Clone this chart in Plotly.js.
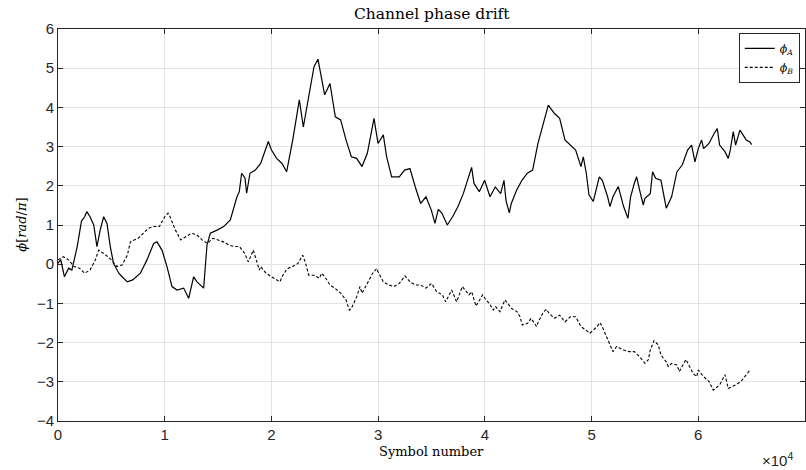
<!DOCTYPE html>
<html>
<head>
<meta charset="utf-8">
<script src="https://cdn.plot.ly/plotly-3.0.1.min.js"></script>
<style>
html,body{margin:0;padding:0;background:#fff;}
#chart{width:806px;height:470px;}
</style>
</head>
<body>
<div id="chart"></div>
<script>
// Symbol numbers and phases (units of pi)
var aX = [0,250,600,1000,1300,1500,1800,2200,2500,2700,3000,3350,3650,3950,4280,4590,4900,5200,5700,6000,6500,7000,7716,8340,8964,9277,9745,10213,10682,11150,11775,12243,12712,13024,13649,13962,14274,14900,15524,16147,16772,16990,17209,17522,17678,17990,18490,18990,19490,19709,19990,20490,20990,21427,21990,22615,22990,23490,23990,24359,24988,25488,25988,26488,26988,27488,27988,28487,28987,29612,29987,30484,30796,31264,31983,32483,32982,33482,33982,34482,34981,35325,35637,35981,36481,36980,37480,37980,38480,38760,38980,39480,39979,40479,40979,41479,41791,41978,42290,42478,42978,43477,43977,44477,44977,45477,45945,46508,47008,47506,48006,48506,49005,49224,49505,49755,50161,50505,50723,51004,51504,51722,52004,52503,53003,53409,53659,54002,54221,54502,54846,55002,55501,55720,56001,56501,57000,57500,58000,58500,58999,59374,59686,59999,60311,60498,60998,61498,61779,61998,62497,62810,62997,63278,63497,63903,64496,64840,65000];
var aY = [0.02,0.12,-0.32,-0.1,-0.15,0.1,0.45,1.1,1.21,1.34,1.21,1.0,0.45,0.87,1.21,1.04,0.45,0.02,-0.23,-0.32,-0.45,-0.4,-0.23,0.11,0.53,0.57,0.36,-0.06,-0.57,-0.66,-0.61,-0.87,-0.32,-0.45,-0.61,0.49,0.79,0.87,0.96,1.13,1.72,1.85,2.32,2.2,1.81,2.32,2.4,2.57,3.0,3.13,2.92,2.7,2.57,2.36,3.16,4.19,3.5,4.27,5.04,5.23,4.32,4.61,3.76,3.68,3.17,2.74,2.7,2.49,2.83,3.72,3.08,3.3,2.74,2.23,2.23,2.4,2.44,1.97,1.55,1.72,1.38,1.04,1.4,1.3,1.0,1.21,1.47,1.8,2.23,2.47,2.06,1.85,2.14,1.72,1.97,1.8,2.14,1.63,1.31,1.55,1.89,2.14,2.32,2.4,3.08,3.59,4.06,3.85,3.72,3.17,3.04,2.91,2.49,2.74,2.32,1.77,1.6,1.98,2.23,2.14,1.72,1.47,1.72,1.98,1.47,1.17,1.72,2.06,2.23,1.89,1.51,1.68,1.8,2.36,2.19,2.14,1.43,1.72,2.36,2.53,2.91,3.04,2.61,2.95,3.17,2.95,3.08,3.34,3.46,3.04,2.87,2.7,2.91,3.38,3.04,3.42,3.17,3.12,3.05];

var bX = [0,500,1000,1500,2000,2500,3000,3500,3810,4500,5000,5500,6000,6500,6777,7500,8000,8500,9000,9500,10000,10307,10500,11000,11500,12000,12500,13000,13500,14000,14500,15000,15500,16000,16500,17000,17490,17834,18303,18490,18865,18990,19490,19990,20490,20802,20990,21490,21990,22490,22926,23175,23490,23990,24490,24706,24988,25488,25988,26488,26988,27300,27488,27988,28300,28487,28987,29487,29862,29987,30487,30987,31487,31986,32517,32982,33482,33982,34481,35012,35481,36012,36324,36887,37356,37887,38512,38762,39168,39793,40011,40511,40791,41010,41416,41885,42510,43009,43290,43509,44009,44321,44852,45008,45508,45789,46008,46507,47007,47507,48007,48506,49006,49505,49848,50473,50786,51005,51505,52004,52348,53004,53504,54003,54503,55003,55315,55502,55846,56252,56502,57001,57189,57501,58001,58220,58845,59500,59843,60000,60500,60999,61405,61999,62499,62811,63498,63998,64498,64842];
var bY = [0.11,0.19,0.11,-0.06,-0.1,-0.23,-0.15,0.11,0.36,0.23,0.11,-0.06,-0.02,0.23,0.57,0.66,0.79,0.92,0.96,0.96,1.21,1.3,1.21,0.87,0.62,0.7,0.79,0.75,0.62,0.53,0.66,0.62,0.57,0.49,0.45,0.45,0.28,0.06,0.36,0.19,-0.15,-0.06,-0.23,-0.32,-0.4,-0.45,-0.32,-0.11,-0.06,0.02,0.23,0.05,-0.28,-0.28,-0.36,-0.23,-0.32,-0.53,-0.62,-0.74,-0.91,-1.17,-1.13,-0.83,-0.57,-0.74,-0.49,-0.23,-0.11,-0.19,-0.45,-0.53,-0.57,-0.49,-0.3,-0.45,-0.53,-0.53,-0.61,-0.49,-0.7,-0.78,-0.96,-0.66,-0.96,-0.57,-0.78,-0.7,-1.07,-0.78,-0.87,-1.04,-1.17,-1.08,-1.21,-0.91,-1.13,-1.21,-1.34,-1.55,-1.51,-1.38,-1.59,-1.47,-1.21,-1.15,-1.25,-1.38,-1.3,-1.47,-1.34,-1.34,-1.59,-1.68,-1.76,-1.6,-1.49,-1.6,-1.93,-2.23,-2.1,-2.19,-2.23,-2.23,-2.36,-2.53,-2.44,-2.19,-1.95,-2.06,-2.32,-2.49,-2.61,-2.53,-2.57,-2.74,-2.43,-2.78,-2.87,-2.7,-2.87,-2.99,-3.21,-3.08,-2.82,-3.17,-3.08,-2.99,-2.82,-2.7];

var xTickVals = [0,10000,20000,30000,40000,50000,60000,70000];
var xTickText = ['0','1','2','3','4','5','6','7'];
var yTickVals = [-4,-3,-2,-1,0,1,2,3,4,5,6];

var serif = 'DejaVu Serif, Liberation Serif, serif';
var sans = 'Liberation Sans, Arial, sans-serif';

var traces = [
  {x: aX, y: aY, type: 'scatter', mode: 'lines', name: '<i>ϕ</i><sub><i>A</i></sub>',
   line: {color: '#000000', width: 1.2}},
  {x: bX, y: bY, type: 'scatter', mode: 'lines', name: '<i>ϕ</i><sub><i>B</i></sub>',
   line: {color: '#000000', width: 1.1, dash: '3px,2px'}}
];

var axisCommon = {
  showline: true, mirror: 'ticks', linecolor: '#262626', linewidth: 1,
  ticks: 'inside', ticklen: 5, tickcolor: '#262626', tickwidth: 1,
  showgrid: true, gridcolor: '#e3e3e3', gridwidth: 1, zeroline: false,
  tickfont: {family: sans, size: 15, color: '#262626'}
};

var layout = {
  width: 806, height: 470,
  margin: {l: 58, r: 1, t: 29, b: 49},
  paper_bgcolor: '#ffffff', plot_bgcolor: '#ffffff',
  showlegend: true,
  legend: {x: 0.993, y: 0.99, xanchor: 'right', yanchor: 'top',
    bgcolor: '#ffffff', bordercolor: '#262626', borderwidth: 1,
    font: {family: serif, size: 11, color: '#000'}, itemwidth: 30,
    tracegroupgap: 0},
  xaxis: Object.assign({}, axisCommon, {range: [0, 70000], tickvals: xTickVals, ticktext: xTickText}),
  yaxis: Object.assign({}, axisCommon, {range: [-4, 6], tickvals: yTickVals}),
  annotations: [
    {text: 'Channel phase drift', xref: 'paper', yref: 'paper', x: 0.5, y: 1.038,
     xanchor: 'center', yanchor: 'middle', showarrow: false,
     font: {family: serif, size: 15.5, color: '#000'}},
    {text: 'Symbol number', xref: 'paper', yref: 'paper', x: 0.5, y: -0.079,
     xanchor: 'center', yanchor: 'middle', showarrow: false,
     font: {family: serif, size: 13, color: '#000'}},
    {text: '×10<sup>4</sup>', xref: 'paper', yref: 'paper', x: 0.986, y: -0.097,
     xanchor: 'right', yanchor: 'middle', showarrow: false,
     font: {family: sans, size: 15, color: '#262626'}},
    {text: '<i>ϕ</i>[<i>rad</i>/<i>π</i>]', xref: 'paper', yref: 'paper', x: -0.05, y: 0.5,
     xanchor: 'center', yanchor: 'middle', showarrow: false, textangle: -90,
     font: {family: serif, size: 13, color: '#000'}}
  ]
};

Plotly.newPlot('chart', traces, layout, {displayModeBar: false, staticPlot: true});
</script>
</body>
</html>
